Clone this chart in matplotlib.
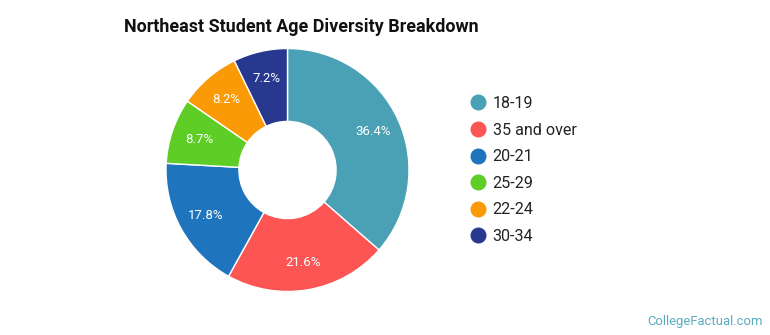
import matplotlib.pyplot as plt
from matplotlib.lines import Line2D

plt.rcParams['font.family'] = ['Roboto', 'DejaVu Sans']

# Data
labels = ['18-19', '35 and over', '20-21', '25-29', '22-24', '30-34']
shares = [36.4, 21.6, 17.8, 8.7, 8.2, 7.2]
colors = ['#4aa1b5', '#fd5454', '#1f74be', '#5ecd25', '#f99a06', '#28388f']

fig = plt.figure(figsize=(7.7, 3.35), dpi=100)

# Donut axes (square, centred where the reference donut sits)
ax = fig.add_axes([166 / 770, 43.5 / 335, 243 / 770, 243 / 335])
wedges, texts, autotexts = ax.pie(
    shares, colors=colors, startangle=90, counterclock=False,
    autopct=lambda p: f'{p:.1f}%', pctdistance=0.77, radius=1,
    wedgeprops=dict(width=0.6, edgecolor='white', linewidth=1),
    textprops=dict(color='white', fontsize=9.5))
ax.set_xlim(-1, 1)
ax.set_ylim(-1, 1)
ax.set_aspect('equal')

# Percentages exactly as shown
for t, v in zip(autotexts, shares):
    t.set_text(f'{v}%')

fig.text(124 / 770, 1 - 27 / 335, 'Northeast Student Age Diversity Breakdown',
         fontsize=12.9, fontweight='bold', color='#111111', va='center', ha='left')

handles = [Line2D([0], [0], marker='o', linestyle='', markersize=10.5,
                  markerfacecolor=c, markeredgecolor=c) for c in colors]
fig.legend(handles, labels, loc='center left', bbox_to_anchor=(454 / 770, 1 - 170 / 335),
           frameon=False, fontsize=11.6, labelspacing=0.72, handletextpad=0.3,
           handlelength=1.2, labelcolor='#222222')

fig.text(763 / 770, 1 - 321 / 335, 'CollegeFactual.com', fontsize=9.4,
         color='#5aaac0', ha='right', va='center')

fig.savefig('out.png', dpi=100)
